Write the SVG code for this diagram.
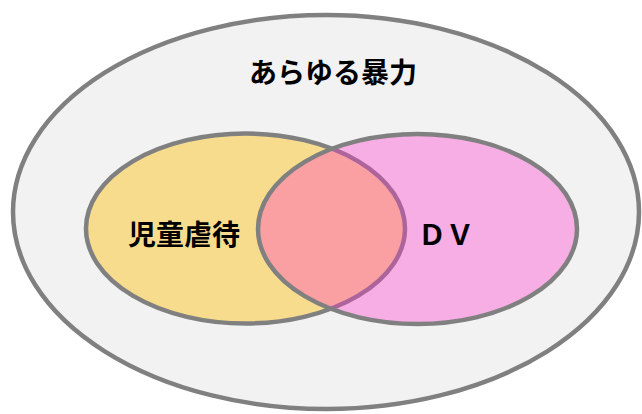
<svg xmlns="http://www.w3.org/2000/svg" width="642" height="414" viewBox="0 0 642 414">
<style>
.lbl{font-family:"Noto Sans CJK JP","Noto Sans",sans-serif;font-weight:bold;font-size:28px;fill:#000;text-anchor:middle}
.e{stroke:#808080;stroke-width:4.5}
</style>
<rect width="642" height="414" fill="#ffffff"/>
<g id="all-violence">
<ellipse class="e" cx="326" cy="212" rx="313" ry="197" fill="#f2f2f2"/>
<text class="lbl" x="333" y="83">あらゆる暴力</text>
</g>
<g id="child-abuse">
<ellipse class="e" cx="245.5" cy="228.5" rx="159.5" ry="95" fill="#f8dc8e"/>
<text class="lbl" x="184" y="245">児童虐待</text>
</g>
<g id="dv">
<ellipse cx="417.5" cy="229" rx="159.5" ry="95" fill="#ff30cc" fill-opacity="0.35"/>
<ellipse cx="417.5" cy="229" rx="159.5" ry="95" fill="none" stroke="#808080" stroke-width="4.5"/>
<text class="lbl" x="446" y="245">ＤＶ</text>
</g>
<g id="connectors"/>
</svg>
